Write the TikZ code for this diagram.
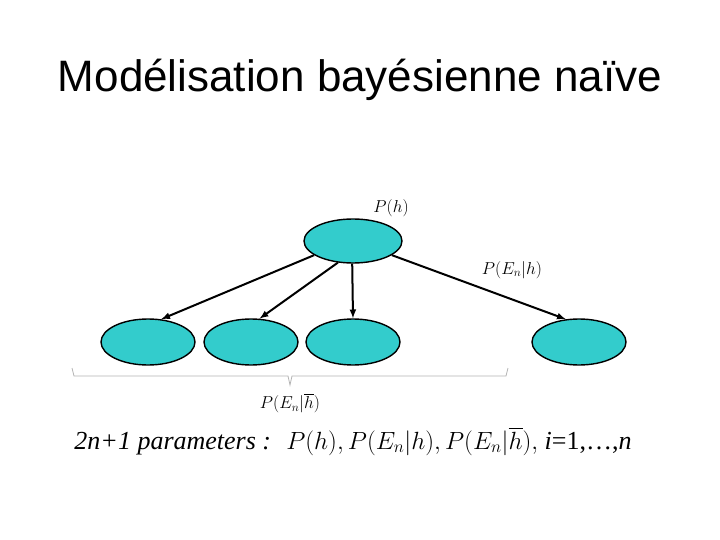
\documentclass[tikz,border=0pt]{standalone}
\usepackage{fontspec}
\setmainfont{Liberation Sans}
\newfontfamily\serifx{Liberation Serif}
\usepackage{amsmath}
\usetikzlibrary{shapes.geometric}
\definecolor{nodecol}{RGB}{51,204,204}
\begin{document}
\begin{tikzpicture}[x=1pt,y=-1pt,
  ell/.style={ellipse,draw=black,line width=1.4pt,fill=nodecol,minimum width=94pt,minimum height=46pt},
  arr/.style={-latex,line width=2pt},
  lab/.style={font=\fontsize{17}{20}\selectfont}]
\useasboundingbox (0,0) rectangle (720,540);
\node at (360,80) {\fontsize{44}{50}\selectfont Modélisation bayésienne naïve};
\node[ell,minimum width=98pt,minimum height=44pt] (top) at (353,241) {};
\node[ell] (b1) at (148,342) {};
\node[ell] (b2) at (251,342) {};
\node[ell] (b3) at (353,342) {};
\node[ell] (b4) at (579,342) {};
\draw[arr] (top.200) -- (b1.60);
\draw[arr] (top.235) -- (b2.70);
\draw[arr] (top.268) -- (b3.north);
\draw[arr] (top.340) -- (b4.120);
\node[lab] (ph) at (391,208) {$P(h)$};
\node[lab] (pe) at (512,270) {$P(E_n|h)$};
\draw[gray!60,line width=0.8pt] (72,368) -- (74,376) -- (288,376) -- (290,385) -- (292,376) -- (506,376) -- (508,368);
\node[lab] (pb) at (290,403) {$P(E_n|\overline{h})$};
\node (par) at (353,441) {\fontsize{26}{30}\selectfont\serifx\itshape 2n+1 parameters : \ \upshape$P(h), P(E_n|h), P(E_n|\overline{h}),$ \itshape i\upshape=1,…,\itshape n};
\end{tikzpicture}
\end{document}
